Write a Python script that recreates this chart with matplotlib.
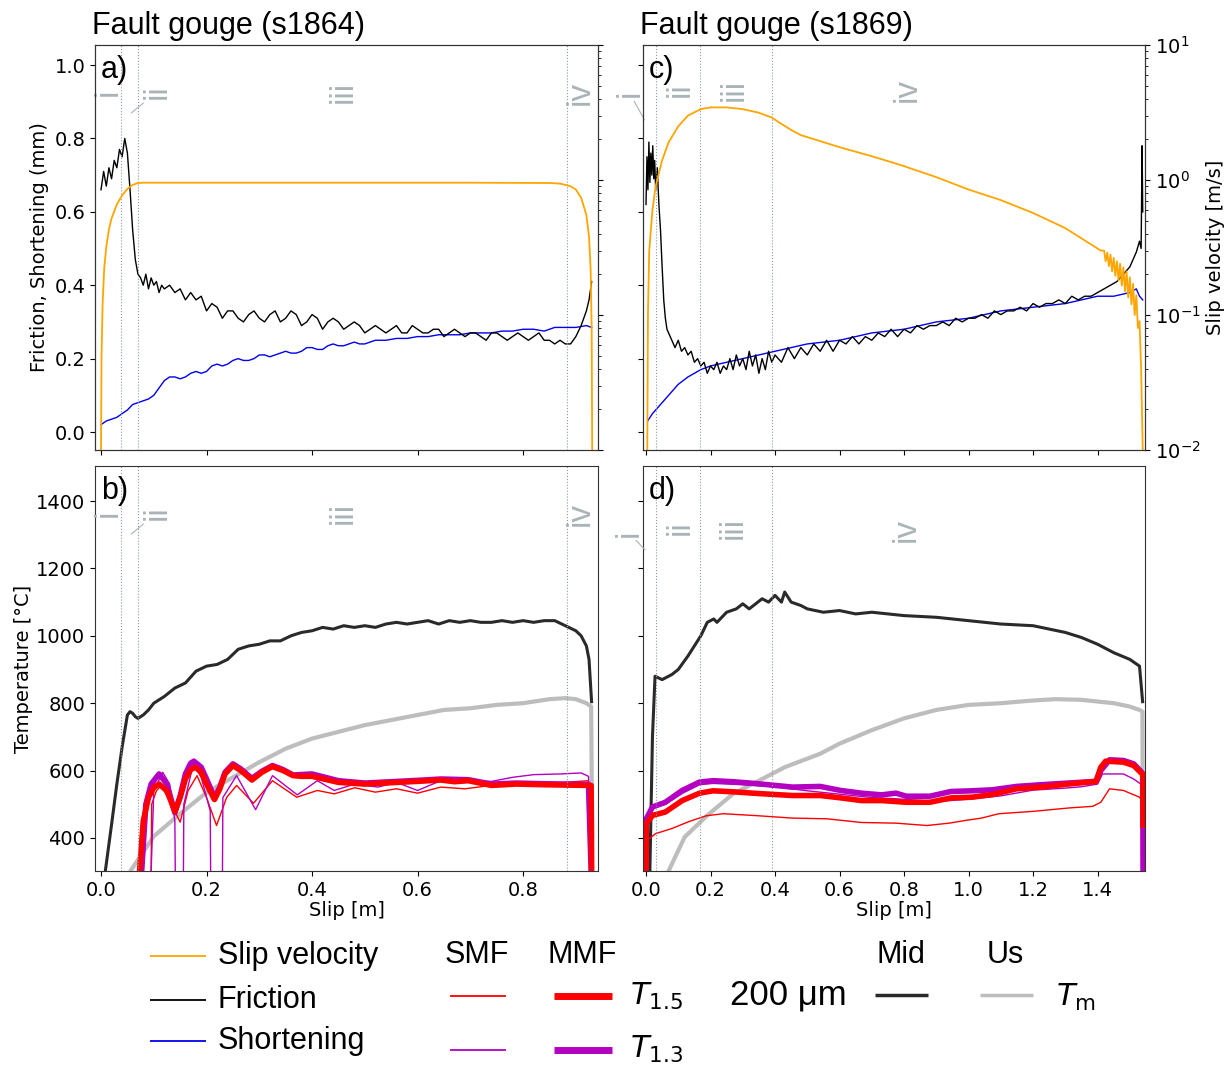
import numpy as np
import matplotlib
matplotlib.use('Agg')
import matplotlib.pyplot as plt
from matplotlib.lines import Line2D
from matplotlib.ticker import LogLocator, NullFormatter

# ---------------- data: panel a (s1864) ----------------
fric_a_slip = [0.000, 0.005, 0.010, 0.015, 0.020, 0.025, 0.030, 0.035, 0.040, 0.045,
               0.050, 0.055, 0.060, 0.065, 0.070, 0.075, 0.080, 0.085, 0.090, 0.095,
               0.100, 0.105, 0.110, 0.115, 0.120, 0.130, 0.140, 0.150, 0.160, 0.170,
               0.180, 0.190, 0.200, 0.210, 0.220, 0.230, 0.240, 0.250, 0.260, 0.270,
               0.280, 0.290, 0.300, 0.310, 0.320, 0.330, 0.340, 0.350, 0.360, 0.370,
               0.380, 0.390, 0.400, 0.410, 0.420, 0.430, 0.440, 0.450, 0.460, 0.470,
               0.480, 0.490, 0.500, 0.510, 0.520, 0.530, 0.540, 0.550, 0.560, 0.570,
               0.580, 0.590, 0.600, 0.610, 0.620, 0.630, 0.640, 0.650, 0.660, 0.670,
               0.680, 0.690, 0.700, 0.710, 0.720, 0.730, 0.740, 0.750, 0.760, 0.770,
               0.780, 0.790, 0.800, 0.810, 0.820, 0.830, 0.840, 0.850, 0.860, 0.870,
               0.880, 0.890, 0.900, 0.910, 0.920, 0.925, 0.930]
fric_a = [0.66, 0.71, 0.67, 0.72, 0.69, 0.74, 0.72, 0.77, 0.75, 0.80,
          0.76, 0.66, 0.55, 0.47, 0.43, 0.42, 0.40, 0.43, 0.39, 0.42,
          0.40, 0.41, 0.38, 0.40, 0.39, 0.40, 0.38, 0.39, 0.36, 0.38,
          0.36, 0.37, 0.33, 0.35, 0.34, 0.31, 0.33, 0.33, 0.31, 0.30,
          0.32, 0.33, 0.31, 0.30, 0.32, 0.33, 0.30, 0.31, 0.33, 0.32,
          0.29, 0.30, 0.32, 0.31, 0.28, 0.30, 0.31, 0.30, 0.28, 0.29,
          0.30, 0.29, 0.27, 0.28, 0.29, 0.28, 0.27, 0.28, 0.29, 0.27,
          0.27, 0.29, 0.28, 0.27, 0.27, 0.28, 0.28, 0.26, 0.27, 0.28,
          0.27, 0.26, 0.27, 0.27, 0.26, 0.25, 0.27, 0.27, 0.26, 0.25,
          0.26, 0.27, 0.26, 0.25, 0.26, 0.27, 0.25, 0.25, 0.24, 0.25,
          0.24, 0.24, 0.26, 0.29, 0.33, 0.36, 0.41]

short_a_slip = [0.00, 0.01, 0.02, 0.03, 0.04, 0.05, 0.06, 0.07, 0.08, 0.09,
                0.10, 0.11, 0.12, 0.13, 0.14, 0.15, 0.16, 0.17, 0.18, 0.19,
                0.20, 0.21, 0.22, 0.23, 0.24, 0.25, 0.26, 0.27, 0.28, 0.29,
                0.30, 0.31, 0.32, 0.33, 0.34, 0.35, 0.36, 0.37, 0.38, 0.39,
                0.40, 0.41, 0.42, 0.43, 0.44, 0.45, 0.46, 0.47, 0.48, 0.49,
                0.50, 0.52, 0.54, 0.56, 0.58, 0.60, 0.62, 0.64, 0.66, 0.68,
                0.70, 0.72, 0.74, 0.76, 0.78, 0.80, 0.82, 0.84, 0.86, 0.88,
                0.90, 0.92, 0.93]
short_a = [0.020, 0.030, 0.035, 0.040, 0.050, 0.060, 0.075, 0.080, 0.085, 0.090,
           0.100, 0.120, 0.140, 0.150, 0.150, 0.145, 0.150, 0.160, 0.165, 0.160,
           0.165, 0.180, 0.185, 0.180, 0.185, 0.195, 0.200, 0.195, 0.195, 0.200,
           0.210, 0.210, 0.205, 0.210, 0.215, 0.220, 0.215, 0.215, 0.220, 0.230,
           0.230, 0.225, 0.225, 0.235, 0.240, 0.235, 0.235, 0.240, 0.245, 0.240,
           0.240, 0.250, 0.250, 0.255, 0.255, 0.260, 0.260, 0.265, 0.265, 0.265,
           0.270, 0.270, 0.270, 0.275, 0.275, 0.280, 0.280, 0.275, 0.285, 0.285,
           0.285, 0.290, 0.285]

vel_a_slip = [0.000, 0.001, 0.003, 0.006, 0.010, 0.015, 0.020, 0.030, 0.040, 0.050,
              0.060, 0.070, 0.080, 0.100, 0.300, 0.500, 0.700, 0.850, 0.870, 0.890,
              0.900, 0.910, 0.920, 0.925, 0.928, 0.930, 0.931]
vel_a = [0.010, 0.050, 0.120, 0.220, 0.320, 0.430, 0.520, 0.660, 0.770, 0.860,
         0.920, 0.950, 0.955, 0.955, 0.955, 0.955, 0.955, 0.950, 0.940, 0.900,
         0.850, 0.740, 0.550, 0.380, 0.220, 0.080, 0.010]

# ---------------- data: panel c (s1869) ----------------
fric_c_slip = [0.000, 0.003, 0.006, 0.009, 0.012, 0.015, 0.018, 0.021, 0.024, 0.027,
               0.030, 0.035, 0.040, 0.045, 0.050, 0.055, 0.060, 0.065, 0.070, 0.080,
               0.090, 0.100, 0.110, 0.120, 0.130, 0.140, 0.150, 0.160, 0.170, 0.180,
               0.190, 0.200, 0.210, 0.220, 0.230, 0.240, 0.250, 0.260, 0.270, 0.280,
               0.290, 0.300, 0.310, 0.320, 0.330, 0.340, 0.350, 0.360, 0.370, 0.380,
               0.390, 0.400, 0.420, 0.440, 0.460, 0.480, 0.500, 0.520, 0.540, 0.560,
               0.580, 0.600, 0.620, 0.640, 0.660, 0.680, 0.700, 0.720, 0.740, 0.760,
               0.780, 0.800, 0.820, 0.840, 0.860, 0.880, 0.900, 0.920, 0.940, 0.960,
               0.980, 1.000, 1.020, 1.040, 1.060, 1.080, 1.100, 1.120, 1.140, 1.160,
               1.180, 1.200, 1.220, 1.240, 1.260, 1.280, 1.300, 1.320, 1.340, 1.360,
               1.380, 1.400, 1.420, 1.440, 1.460, 1.480, 1.500, 1.510, 1.520, 1.530,
               1.535, 1.538, 1.540]
fric_c = [0.62, 0.75, 0.66, 0.79, 0.68, 0.76, 0.70, 0.78, 0.69, 0.74,
          0.66, 0.72, 0.62, 0.55, 0.45, 0.36, 0.31, 0.28, 0.27, 0.25,
          0.23, 0.25, 0.22, 0.23, 0.21, 0.22, 0.19, 0.20, 0.18, 0.19,
          0.16, 0.18, 0.17, 0.19, 0.16, 0.18, 0.17, 0.20, 0.17, 0.21,
          0.18, 0.20, 0.17, 0.22, 0.18, 0.21, 0.16, 0.20, 0.17, 0.22,
          0.19, 0.21, 0.19, 0.23, 0.20, 0.23, 0.21, 0.24, 0.22, 0.25,
          0.22, 0.25, 0.24, 0.26, 0.24, 0.26, 0.25, 0.27, 0.26, 0.28,
          0.26, 0.28, 0.27, 0.29, 0.28, 0.29, 0.29, 0.30, 0.29, 0.31,
          0.30, 0.31, 0.31, 0.32, 0.31, 0.33, 0.32, 0.33, 0.33, 0.34,
          0.33, 0.35, 0.34, 0.35, 0.35, 0.36, 0.35, 0.37, 0.36, 0.37,
          0.37, 0.38, 0.39, 0.40, 0.41, 0.43, 0.45, 0.47, 0.49, 0.52,
          0.50, 0.78, 0.60]

short_c_slip = [0.005, 0.02, 0.05, 0.08, 0.10, 0.13, 0.17, 0.20, 0.25, 0.30,
                0.40, 0.50, 0.60, 0.70, 0.80, 0.90, 1.00, 1.10, 1.20, 1.30,
                1.40, 1.45, 1.50, 1.52, 1.53, 1.54]
short_c = [0.03, 0.05, 0.08, 0.11, 0.13, 0.15, 0.17, 0.18, 0.19, 0.20,
           0.22, 0.24, 0.25, 0.27, 0.28, 0.30, 0.31, 0.33, 0.34, 0.35,
           0.37, 0.37, 0.38, 0.39, 0.37, 0.36]

vel_c_slip = [0.004, 0.006, 0.010, 0.020, 0.030, 0.050, 0.070, 0.100, 0.130, 0.170,
              0.200, 0.250, 0.300, 0.350, 0.390, 0.420, 0.450, 0.480, 0.600, 0.700,
              0.790, 0.900, 1.000, 1.100, 1.200, 1.300, 1.410, 1.420, 1.425, 1.430,
              1.435, 1.440, 1.445, 1.450, 1.455, 1.460, 1.465, 1.470, 1.475, 1.480,
              1.485, 1.490, 1.495, 1.500, 1.505, 1.510, 1.515, 1.520, 1.525, 1.530,
              1.535, 1.540]
vel_c = [0.010, 0.100, 0.300, 0.600, 0.900, 1.400, 1.900, 2.500, 3.000, 3.350,
         3.450, 3.450, 3.350, 3.150, 2.900, 2.600, 2.350, 2.150, 1.750, 1.500,
         1.290, 1.050, 0.850, 0.710, 0.570, 0.440, 0.300, 0.300, 0.250, 0.290,
         0.230, 0.280, 0.210, 0.265, 0.195, 0.250, 0.180, 0.240, 0.165, 0.225,
         0.150, 0.210, 0.135, 0.190, 0.120, 0.170, 0.100, 0.140, 0.080, 0.090,
         0.040, 0.010]

# ---------------- data: panel b (s1864 temperatures) ----------------
mid_b_slip = [0.008, 0.020, 0.030, 0.040, 0.050, 0.055, 0.060, 0.065, 0.070, 0.080,
              0.090, 0.100, 0.120, 0.140, 0.160, 0.180, 0.200, 0.220, 0.240, 0.260,
              0.280, 0.300, 0.320, 0.340, 0.360, 0.380, 0.400, 0.420, 0.440, 0.460,
              0.480, 0.500, 0.520, 0.540, 0.560, 0.580, 0.600, 0.620, 0.640, 0.660,
              0.680, 0.700, 0.720, 0.740, 0.760, 0.780, 0.800, 0.820, 0.840, 0.860,
              0.880, 0.900, 0.910, 0.920, 0.925, 0.930]
mid_b = [300, 440, 560, 670, 765, 775, 770, 760, 755, 765,
         780, 800, 820, 845, 860, 895, 910, 915, 930, 960,
         970, 975, 985, 985, 1000, 1010, 1015, 1025, 1020, 1030,
         1025, 1030, 1025, 1035, 1040, 1035, 1040, 1045, 1035, 1045,
         1040, 1045, 1040, 1040, 1045, 1040, 1045, 1040, 1045, 1045,
         1030, 1015, 1000, 970, 930, 800]

tm_b_slip = [0.055, 0.100, 0.150, 0.200, 0.250, 0.300, 0.350, 0.400, 0.450, 0.500,
             0.550, 0.600, 0.650, 0.700, 0.750, 0.800, 0.850, 0.880, 0.900, 0.920,
             0.929, 0.931]
tm_b = [300, 405, 472, 535, 580, 625, 665, 695, 715, 735,
        750, 765, 780, 785, 795, 800, 812, 815, 812, 800,
        790, 400]

mmf15_b_slip = [0.073, 0.080, 0.090, 0.100, 0.110, 0.125, 0.140, 0.150, 0.160, 0.170,
                0.179, 0.190, 0.200, 0.215, 0.225, 0.235, 0.250, 0.265, 0.286, 0.305,
                0.325, 0.345, 0.364, 0.380, 0.400, 0.450, 0.500, 0.550, 0.600,
                0.644, 0.670, 0.696, 0.740, 0.787, 0.840, 0.880, 0.924, 0.929, 0.930]
mmf15_b = [300, 450, 520, 550, 560, 540, 478, 520, 575, 603,
           610, 595, 560, 514, 545, 590, 615, 600, 572, 595,
           612, 600, 585, 583, 583, 565, 560, 564, 568,
           572, 567, 570, 556, 560, 558, 557, 556, 556, 300]

mmf13_b_slip = [0.077, 0.085, 0.095, 0.110, 0.125, 0.140, 0.150, 0.160, 0.170, 0.176,
                0.190, 0.200, 0.215, 0.225, 0.235, 0.250, 0.265, 0.286, 0.305, 0.325,
                0.345, 0.364, 0.400, 0.450, 0.500, 0.550, 0.600,
                0.644, 0.696, 0.740, 0.787, 0.840, 0.880, 0.924, 0.929]
mmf13_b = [300, 500, 560, 590, 560, 475, 525, 590, 622, 628,
           610, 575, 520, 550, 595, 620, 605, 577, 598, 615,
           603, 587, 590, 570, 563, 567, 571,
           575, 573, 560, 563, 561, 560, 559, 300]

smf15_b_slip = [0.095, 0.096, 0.105, 0.114, 0.130, 0.150, 0.165, 0.182, 0.200, 0.219,
                0.238, 0.257, 0.289, 0.325, 0.371, 0.410, 0.442, 0.481, 0.520, 0.560,
                0.600, 0.644, 0.690, 0.740, 0.800, 0.860, 0.924, 0.929]
smf15_b = [300, 500, 540, 556, 510, 447, 540, 585, 520, 437,
           520, 556, 503, 570, 521, 541, 531, 549, 536, 546,
           533, 551, 546, 556, 560, 563, 570, 300]

smf13_b_slip = [0.095, 0.100, 0.117, 0.130, 0.140, 0.141, 0.156, 0.157, 0.175, 0.190,
                0.207, 0.208, 0.230, 0.231, 0.257, 0.293, 0.325, 0.372, 0.410, 0.442,
                0.481, 0.525, 0.560, 0.600, 0.644, 0.690, 0.740, 0.780, 0.820, 0.870,
                0.910, 0.924, 0.929]
smf13_b = [300, 540, 595, 560, 450, 250, 250, 500, 620, 580,
           480, 250, 250, 520, 585, 484, 585, 528, 570, 541,
           560, 551, 565, 541, 570, 568, 568, 580, 588, 590,
           593, 583, 300]

# ---------------- data: panel d (s1869 temperatures) ----------------
mid_d_slip = [0.012, 0.020, 0.028, 0.050, 0.080, 0.100, 0.130, 0.150, 0.170, 0.190,
              0.210, 0.220, 0.250, 0.280, 0.300, 0.320, 0.360, 0.380, 0.400, 0.420,
              0.430, 0.450, 0.480, 0.500, 0.550, 0.600, 0.650, 0.700, 0.800, 0.900,
              1.000, 1.100, 1.200, 1.300, 1.350, 1.400, 1.450, 1.500, 1.530, 1.540]
mid_d = [300, 700, 880, 870, 885, 900, 940, 970, 1000, 1040,
         1050, 1040, 1070, 1080, 1095, 1080, 1110, 1100, 1120, 1100,
         1130, 1100, 1090, 1080, 1070, 1075, 1065, 1070, 1060, 1055,
         1045, 1035, 1030, 1010, 995, 975, 950, 930, 910, 800]

tm_d_slip = [0.069, 0.120, 0.190, 0.270, 0.350, 0.430, 0.540, 0.600, 0.700, 0.800,
             0.900, 1.000, 1.100, 1.200, 1.270, 1.350, 1.400, 1.450, 1.500, 1.530,
             1.539, 1.540]
tm_d = [300, 403, 467, 531, 570, 610, 650, 680, 720, 755,
        780, 795, 800, 808, 812, 810, 805, 800, 790, 780,
        775, 467]

mmf13_d_slip = [0.000, 0.001, 0.020, 0.060, 0.112, 0.166, 0.208, 0.270, 0.347, 0.454, 0.540,
                0.604, 0.668, 0.730, 0.775, 0.807, 0.880, 0.946, 1.010, 1.074, 1.149,
                1.224, 1.309, 1.395, 1.410, 1.437, 1.480, 1.512, 1.534, 1.540, 1.541]
mmf13_d = [300, 457, 492, 506, 541, 566, 570, 567, 561, 551, 553,
           541, 533, 528, 533, 524, 524, 538, 540, 543, 553,
           558, 563, 568, 600, 632, 630, 620, 598, 590, 300]

mmf15_d_slip = [0.000, 0.001, 0.020, 0.060, 0.112, 0.166, 0.208, 0.270, 0.347, 0.454, 0.540,
                0.604, 0.668, 0.730, 0.807, 0.880, 0.946, 1.010, 1.074, 1.149, 1.224,
                1.309, 1.395, 1.410, 1.425, 1.480, 1.512, 1.534, 1.540, 1.541]
mmf15_d = [300, 442, 467, 477, 511, 533, 540, 537, 532, 526, 526,
           519, 511, 511, 506, 506, 519, 521, 529, 546, 551,
           560, 568, 610, 628, 625, 615, 594, 590, 430]

smf13_d_slip = [0.000, 0.020, 0.060, 0.112, 0.166, 0.208, 0.300, 0.400, 0.500, 0.600,
                0.700, 0.800, 0.900, 1.000, 1.100, 1.200, 1.300, 1.350, 1.400, 1.415,
                1.450, 1.480, 1.512, 1.534]
smf13_d = [455, 488, 500, 532, 558, 562, 558, 552, 540, 530,
           520, 515, 508, 515, 525, 542, 548, 552, 560, 590,
           590, 590, 575, 560]

smf15_d_slip = [0.010, 0.030, 0.080, 0.134, 0.187, 0.240, 0.347, 0.454, 0.560, 0.668,
                0.775, 0.871, 0.940, 0.990, 1.040, 1.094, 1.200, 1.310, 1.385, 1.410,
                1.437, 1.480, 1.530, 1.534]
smf15_d = [398, 413, 428, 449, 466, 472, 466, 459, 457, 446,
           444, 437, 444, 452, 459, 472, 479, 489, 494, 506,
           546, 541, 521, 515]

# phase boundaries (slip, m)
bounds_1864 = [0.037, 0.070, 0.883]
bounds_1869 = [0.031, 0.166, 0.390]
phase_labels = ['i', 'ii', 'iii', 'iv']

# ---------------- figure ----------------
W, H = 1226, 1066
plt.rcParams['font.family'] = ['DejaVu Sans']
plt.rcParams['mathtext.fontset'] = 'dejavusans'
fig = plt.figure(figsize=(W / 100, H / 100), dpi=100)
SANS = ['Liberation Sans', 'DejaVu Sans']

def box(l, t, r, b):
    return [l / W, 1 - b / H, (r - l) / W, (b - t) / H]

ax_a = fig.add_axes(box(95, 45, 598, 450))
ax_c = fig.add_axes(box(643, 45, 1145, 450))
ax_b = fig.add_axes(box(95, 466, 598, 871))
ax_d = fig.add_axes(box(643, 466, 1145, 871))
ax_a2 = ax_a.twinx()
ax_c2 = ax_c.twinx()

C_ORANGE = '#ffa500'
C_BLUE = '#0000ee'
C_RED = '#ff0000'
C_MAG = '#b400c0'
C_MID = '#2a2a2a'
C_TM = '#bdbdbd'
C_NUM = '#a9b4b8'
C_DOT = '#8a9aa6'

# top panels
for ax, s_sl, s_v, f_sl, f_v in [(ax_a, short_a_slip, short_a, fric_a_slip, fric_a),
                                 (ax_c, short_c_slip, short_c, fric_c_slip, fric_c)]:
    ax.plot(s_sl, s_v, color=C_BLUE, lw=1.0)
    ax.plot(f_sl, f_v, color='black', lw=1.0)
ax_a2.plot(vel_a_slip, vel_a, color=C_ORANGE, lw=1.3)
ax_c2.plot(vel_c_slip, vel_c, color=C_ORANGE, lw=1.3)

# bottom panels
for ax, series in [(ax_b, [(mid_b_slip, mid_b, C_MID, 2.2), (tm_b_slip, tm_b, C_TM, 3.0),
                           (smf15_b_slip, smf15_b, C_RED, 1.0), (smf13_b_slip, smf13_b, C_MAG, 1.0),
                           (mmf13_b_slip, mmf13_b, C_MAG, 4.0), (mmf15_b_slip, mmf15_b, C_RED, 4.0)]),
                   (ax_d, [(mid_d_slip, mid_d, C_MID, 2.2), (tm_d_slip, tm_d, C_TM, 3.0),
                           (smf15_d_slip, smf15_d, C_RED, 1.0), (smf13_d_slip, smf13_d, C_MAG, 1.0),
                           (mmf13_d_slip, mmf13_d, C_MAG, 4.0), (mmf15_d_slip, mmf15_d, C_RED, 4.0)])]:
    for xs, ys, col, lw in series:
        ax.plot(xs, ys, color=col, lw=lw, solid_capstyle='butt')

# limits
for ax in (ax_a, ax_b):
    ax.set_xlim(-0.0114, 0.942)
for ax in (ax_c, ax_d):
    ax.set_xlim(-0.0093, 1.547)
for ax in (ax_a, ax_c):
    ax.set_ylim(-0.049, 1.0545)
    ax.set_yticks([0.0, 0.2, 0.4, 0.6, 0.8, 1.0])
    ax.tick_params(labelbottom=False)
for ax in (ax_a2, ax_c2):
    ax.set_yscale('log')
    ax.set_ylim(0.01, 10)
    ax.yaxis.set_major_locator(LogLocator(base=10, numticks=10))
    ax.yaxis.set_minor_locator(LogLocator(base=10, subs=np.arange(2, 10), numticks=20))
    ax.yaxis.set_minor_formatter(NullFormatter())
ax_a2.tick_params(labelright=False)
for ax in (ax_b, ax_d):
    ax.set_ylim(302, 1504)
    ax.set_yticks([400, 600, 800, 1000, 1200, 1400])
ax_c.tick_params(labelleft=False)
ax_d.tick_params(labelleft=False)
for ax in (ax_a, ax_b, ax_c, ax_d, ax_a2, ax_c2):
    ax.tick_params(labelsize=14)
    for sp in ax.spines.values():
        sp.set_color('#333333')
ax_b.set_xticks([0.0, 0.2, 0.4, 0.6, 0.8])
ax_d.set_xticks([0.0, 0.2, 0.4, 0.6, 0.8, 1.0, 1.2, 1.4])
ax_a.set_xticks([0.0, 0.2, 0.4, 0.6, 0.8])
ax_c.set_xticks([0.0, 0.2, 0.4, 0.6, 0.8, 1.0, 1.2, 1.4])

ax_a.set_ylabel('Friction, Shortening (mm)', fontsize=14)
ax_c2.set_ylabel('Slip velocity [m/s]', fontsize=14)
ax_b.set_ylabel('Temperature [°C]', fontsize=14, labelpad=2)
ax_b.set_xlabel('Slip [m]', fontsize=14, labelpad=1)
ax_d.set_xlabel('Slip [m]', fontsize=14, labelpad=1)

ax_a.set_title('Fault gouge (s1864)', loc='left', fontsize=22, family=SANS, pad=8, x=-0.005)
ax_c.set_title('Fault gouge (s1869)', loc='left', fontsize=22, family=SANS, pad=8, x=-0.005)

for ax, lab in [(ax_a, 'a)'), (ax_c, 'c)'), (ax_b, 'b)'), (ax_d, 'd)')]:
    ax.text(0.012, 0.975, lab, transform=ax.transAxes, fontsize=22, family=SANS,
            ha='left', va='top', zorder=10)

# phase boundaries
for ax in (ax_a, ax_b):
    for xb in bounds_1864:
        ax.axvline(xb, color=C_DOT, lw=0.8, ls=':')
for ax in (ax_c, ax_d):
    for xb in bounds_1869:
        ax.axvline(xb, color=C_DOT, lw=0.8, ls=':')

# phase numerals (axes fractions)
num_pos = {
    'a': [(0.026, 0.884), (0.123, 0.884), (0.493, 0.884), (0.964, 0.881)],
    'b': [(0.026, 0.884), (0.123, 0.884), (0.493, 0.884), (0.964, 0.881)],
    'c': [(-0.026, 0.880), (0.074, 0.889), (0.181, 0.889), (0.526, 0.889)],
    'd': [(-0.028, 0.835), (0.074, 0.847), (0.180, 0.847), (0.524, 0.842)],
}
leaders = {
    'a': (1, (0.072, 0.832)),
    'b': (1, (0.072, 0.832)),
    'c': (0, (0.003, 0.815)),
    'd': (0, (0.004, 0.793)),
}
for key, ax in [('a', ax_a), ('b', ax_b), ('c', ax_c), ('d', ax_d)]:
    li, lxy = leaders[key]
    for k, (lab, (tx, ty)) in enumerate(zip(phase_labels, num_pos[key])):
        if k == li:
            ax.annotate(lab, xy=lxy, xycoords='axes fraction', xytext=(tx, ty),
                        textcoords='axes fraction', rotation=90, fontsize=24,
                        family=SANS, color=C_NUM, ha='center', va='center',
                        arrowprops=dict(arrowstyle='-', color=C_NUM, lw=0.8,
                                        shrinkA=1, shrinkB=0),
                        annotation_clip=False, zorder=9)
        else:
            ax.text(tx, ty, lab, transform=ax.transAxes, rotation=90, fontsize=24,
                    family=SANS, color=C_NUM, ha='center', va='center', clip_on=False,
                    zorder=9)

# ---------------- legend (figure coordinates) ----------------
def fx(x):
    return x / W

def fy(y):
    return 1 - y / H

def seg(x0, x1, y, col, lw):
    fig.add_artist(Line2D([fx(x0), fx(x1)], [fy(y), fy(y)], color=col, lw=lw,
                          transform=fig.transFigure, solid_capstyle='butt'))

def ftxt(x, y, s, size=22, ha='left', family=SANS):
    fig.text(fx(x), fy(y), s, fontsize=size, ha=ha, va='center', family=family)

seg(150, 206, 956, C_ORANGE, 1.3)
ftxt(218, 956, 'Slip velocity')
seg(150, 206, 1000, 'black', 1.3)
ftxt(218, 1000, 'Friction')
seg(150, 206, 1041, C_BLUE, 1.3)
ftxt(218, 1041, 'Shortening')

ftxt(477, 955, 'SMF', ha='center')
ftxt(582, 955, 'MMF', ha='center')
seg(450, 506, 996, C_RED, 1.3)
seg(554, 612, 996, C_RED, 5.0)
ftxt(630, 996, r'$T_{1.5}$')
seg(450, 506, 1050, C_MAG, 1.3)
seg(554, 612, 1050, C_MAG, 5.0)
ftxt(630, 1049, r'$T_{1.3}$')

ftxt(788, 995, '200 μm', size=25, ha='center')
ftxt(901, 955, 'Mid', ha='center')
ftxt(1005, 955, 'Us', ha='center')
seg(875, 928, 995, C_MID, 2.5)
seg(980, 1033, 995, C_TM, 2.5)
ftxt(1056, 997, r'$T_{\mathrm{m}}$')

fig.savefig('out.png', dpi=100)
